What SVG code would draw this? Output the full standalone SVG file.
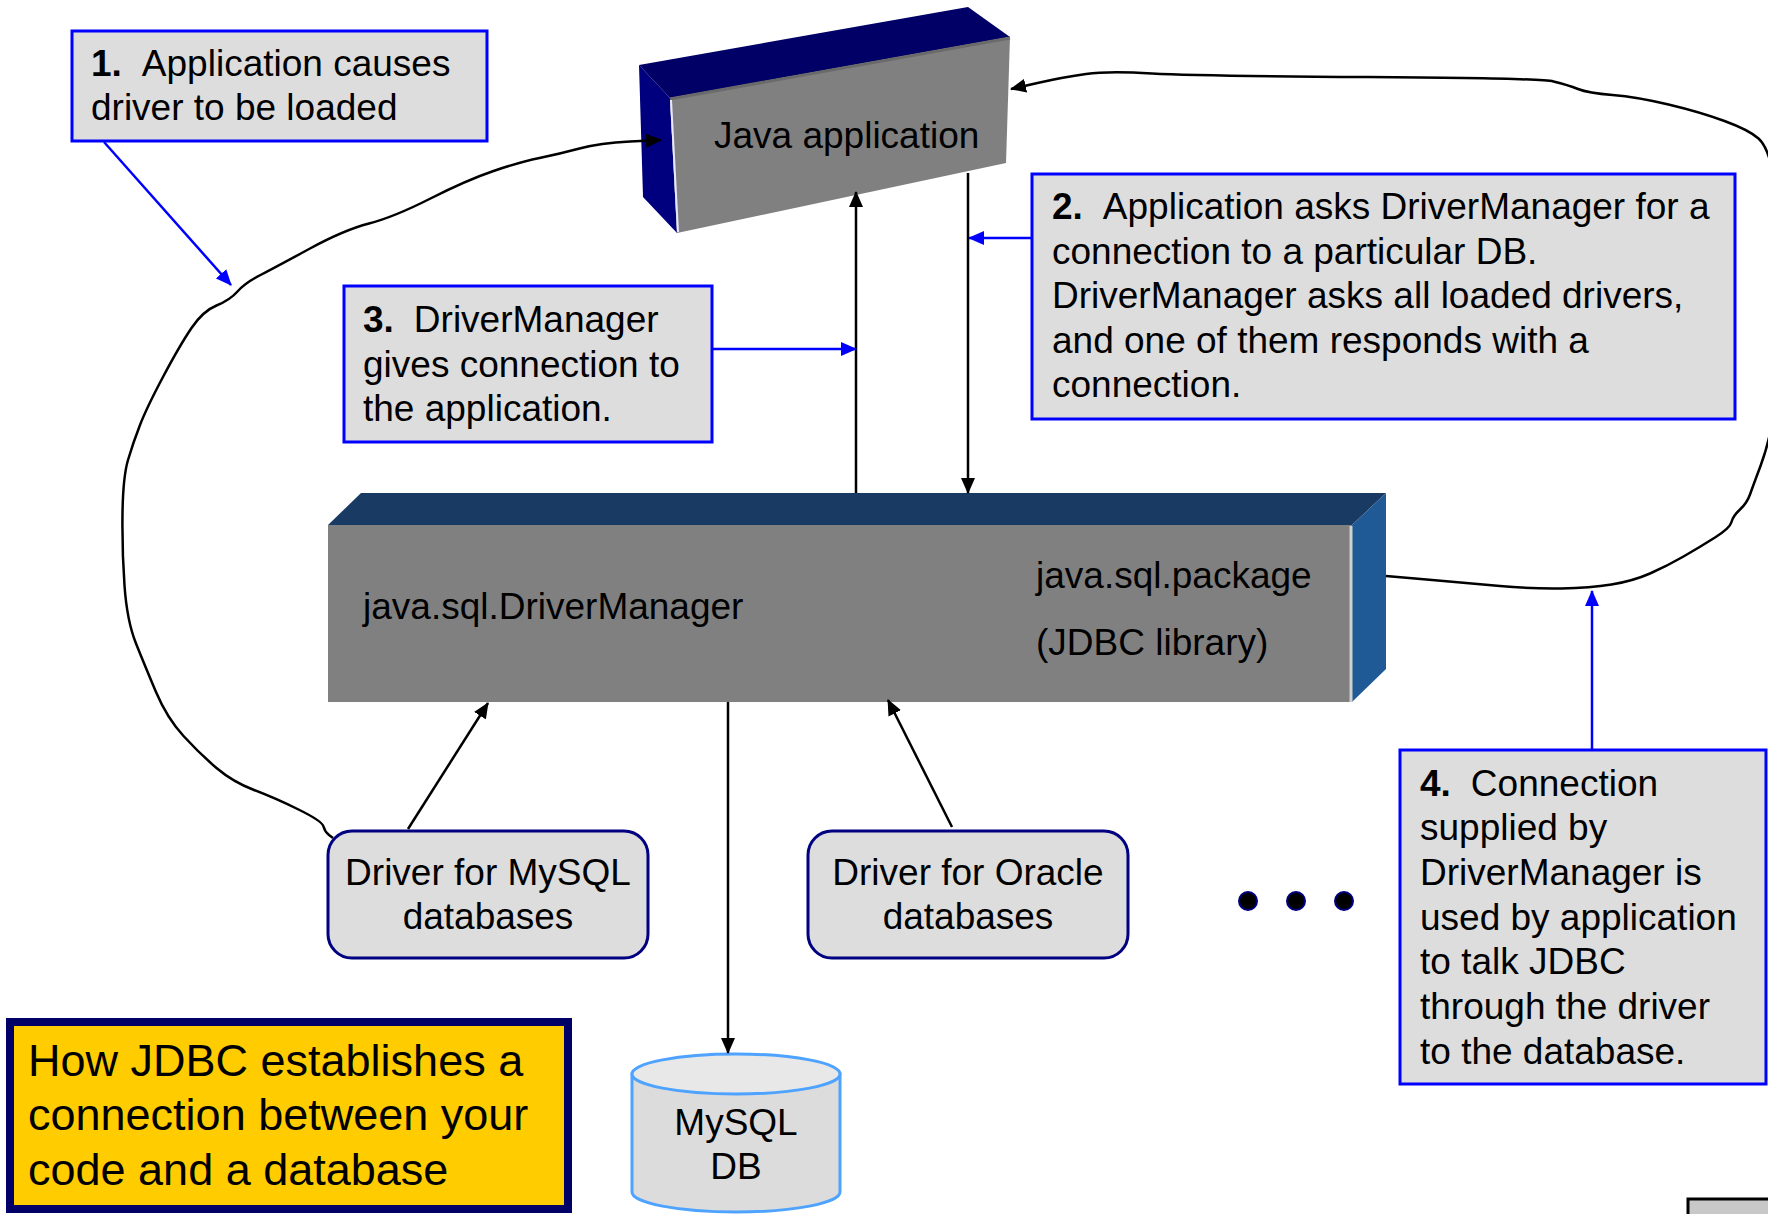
<svg xmlns="http://www.w3.org/2000/svg" width="1768" height="1214" viewBox="0 0 1768 1214">
<style>
text{font-family:"Liberation Sans",Arial,sans-serif;font-size:37px;fill:#000}
.b{font-weight:bold}
.note{fill:#dddddd;stroke:#0000ff;stroke-width:3}
.drv{fill:#dddddd;stroke:#000080;stroke-width:3}
.blk{fill:none;stroke:#000;stroke-width:2.5}
.blu{fill:none;stroke:#0000ff;stroke-width:2.5}
.wav{fill:none;stroke:#000;stroke-width:2.5;stroke-linejoin:round}
.mid{text-anchor:middle}
.title{font-size:45px}
</style>
<defs>
<marker id="ab" markerUnits="userSpaceOnUse" markerWidth="16" markerHeight="14" refX="15" refY="7" orient="auto">
<path d="M0,0 L16,7 L0,14 Z" fill="#000"/>
</marker>
<marker id="au" markerUnits="userSpaceOnUse" markerWidth="16" markerHeight="14" refX="15" refY="7" orient="auto">
<path d="M0,0 L16,7 L0,14 Z" fill="#0000ff"/>
</marker>
</defs>
<rect width="1768" height="1214" fill="#fff"/>

<g id="java-app">
<polygon points="639,65 968,7 1010,37 670,98" fill="#000066"/>
<polygon points="639,65 670,98 677,233 643,197" fill="#00007f"/>
<polygon points="670,98 1010,37 1006,163 677,233" fill="#808080"/>
<line x1="670" y1="99" x2="1010" y2="38" stroke="#6a6a6a" stroke-width="3"/>
<line x1="671" y1="100" x2="678" y2="232" stroke="#e8e8ff" stroke-width="2"/>
<text x="714" y="148">Java application</text>
</g>

<g id="jdbc">
<polygon points="328,525 361,493 1386,493 1352,525" fill="#193a63"/>
<polygon points="1352,525 1386,493 1386,669 1352,702" fill="#1f5a96"/>
<rect x="328" y="525" width="1024" height="177" fill="#808080"/>
<line x1="1351" y1="526" x2="1351" y2="702" stroke="#d0d0d0" stroke-width="3"/>
<text x="363" y="619">java.sql.DriverManager</text>
<text x="1036" y="588">java.sql.package</text>
<text x="1036" y="655">(JDBC library)</text>
</g>

<g id="note1">
<rect class="note" x="72" y="31" width="415" height="110"/>
<text x="91" y="76"><tspan class="b">1.</tspan><tspan dx="20">Application causes</tspan></text>
<text x="91" y="120">driver to be loaded</text>
</g>

<g id="note2">
<rect class="note" x="1032" y="174" width="703" height="245"/>
<text x="1052" y="219"><tspan class="b">2.</tspan><tspan dx="20">Application asks DriverManager for a</tspan></text>
<text x="1052" y="264">connection to a particular DB.</text>
<text x="1052" y="308">DriverManager asks all loaded drivers,</text>
<text x="1052" y="353">and one of them responds with a</text>
<text x="1052" y="397">connection.</text>
</g>

<g id="note3">
<rect class="note" x="344" y="286" width="368" height="156"/>
<text x="363" y="332"><tspan class="b">3.</tspan><tspan dx="20">DriverManager</tspan></text>
<text x="363" y="377">gives connection to</text>
<text x="363" y="421">the application.</text>
</g>

<g id="note4">
<rect class="note" x="1400" y="750" width="366" height="334"/>
<text x="1420" y="796"><tspan class="b">4.</tspan><tspan dx="20">Connection</tspan></text>
<text x="1420" y="840">supplied by</text>
<text x="1420" y="885">DriverManager is</text>
<text x="1420" y="930">used by application</text>
<text x="1420" y="974">to talk JDBC</text>
<text x="1420" y="1019">through the driver</text>
<text x="1420" y="1064">to the database.</text>
</g>

<g id="driver-mysql">
<rect class="drv" x="328" y="831" width="320" height="127" rx="24" ry="24"/>
<text class="mid" x="488" y="885">Driver for MySQL</text>
<text class="mid" x="488" y="929">databases</text>
</g>

<g id="driver-oracle">
<rect class="drv" x="808" y="831" width="320" height="127" rx="24" ry="24"/>
<text class="mid" x="968" y="885">Driver for Oracle</text>
<text class="mid" x="968" y="929">databases</text>
</g>

<g id="more-drivers">
<ellipse cx="1248" cy="901" rx="9" ry="9" fill="#000" stroke="#000080" stroke-width="2"/>
<ellipse cx="1296" cy="901" rx="9" ry="9" fill="#000" stroke="#000080" stroke-width="2"/>
<ellipse cx="1344" cy="901" rx="9" ry="9" fill="#000" stroke="#000080" stroke-width="2"/>
</g>

<g id="mysql-db">
<path d="M632,1074 L632,1192 A104,20 0 0 0 840,1192 L840,1074 Z" fill="#dcdcdc" stroke="#4da3ff" stroke-width="3"/>
<ellipse cx="736" cy="1074" rx="104" ry="20" fill="#e8e8e8" stroke="#4da3ff" stroke-width="3"/>
<text class="mid" x="736" y="1135">MySQL</text>
<text class="mid" x="736" y="1179">DB</text>
</g>

<g id="title">
<rect x="10" y="1022" width="558" height="187" fill="#ffcc00" stroke="#000066" stroke-width="8"/>
<text class="title" x="28" y="1076">How JDBC establishes a</text>
<text class="title" x="28" y="1130">connection between your</text>
<text class="title" x="28" y="1185">code and a database</text>
</g>

<g id="connectors">
<path class="wav" marker-end="url(#ab)" d="M333,838 L329,835 Q325,832 323.5,826.5 Q322,821 298.5,809.5 Q275,798 254,790 Q233,782 216.5,768 Q200,754 183.5,736 Q167,718 156,692 Q145,666 136,643.5 Q127,621 124.5,585.5 Q122,550 122.5,513.5 Q123,477 128,460 Q133,443 140,425 Q147,407 163.5,376 Q180,345 191.5,328 Q203,311 216.5,305.5 Q230,300 237.5,291.5 Q245,283 260.5,275 Q276,267 310,248.5 Q344,230 369,223.5 Q394,217 430.5,198.5 Q467,180 493.5,171 Q520,162 539.5,158 Q559,154 579.5,148.5 Q600,143 630,141.5 L661,140"/>
<path class="wav" marker-end="url(#ab)" d="M1386,576 L1426.5,579.5 Q1467,583 1500,586 Q1533,589 1561.5,588.5 Q1590,588 1611.5,584.5 Q1633,581 1650,573.5 Q1667,566 1683.5,556.5 Q1700,547 1715,537.5 Q1730,528 1731.5,522 Q1733,516 1740,509.5 Q1747,503 1750,494.5 Q1753,486 1760.5,466 Q1768,446 1772,423 Q1776,400 1777,300 Q1778,200 1773,173.5 Q1768,147 1758.5,138.5 Q1749,130 1724.5,121 Q1700,112 1668.5,104.5 Q1637,97 1612.5,95 Q1588,93 1578,89 Q1568,85 1553.5,81.5 Q1539,78 1367.5,77 Q1196,76 1152,73.5 Q1108,71 1086,74 Q1064,77 1037.5,83 L1011,89"/>
<line class="blk" marker-end="url(#ab)" x1="856" y1="493" x2="856" y2="192"/>
<line class="blk" marker-end="url(#ab)" x1="968" y1="173" x2="968" y2="493"/>
<line class="blk" marker-end="url(#ab)" x1="408" y1="829" x2="488" y2="703"/>
<line class="blk" marker-end="url(#ab)" x1="952" y1="827" x2="888" y2="700"/>
<line class="blk" marker-end="url(#ab)" x1="728" y1="702" x2="728" y2="1053"/>
<line class="blu" marker-end="url(#au)" x1="104" y1="142" x2="231" y2="285"/>
<line class="blu" marker-end="url(#au)" x1="1032" y1="238" x2="969" y2="238"/>
<line class="blu" marker-end="url(#au)" x1="711" y1="349" x2="856" y2="349"/>
<line class="blu" marker-end="url(#au)" x1="1592" y1="750" x2="1592" y2="591"/>
</g>

<rect x="1688" y="1199" width="90" height="30" fill="#c8c8c8" stroke="#000" stroke-width="3"/>
</svg>
